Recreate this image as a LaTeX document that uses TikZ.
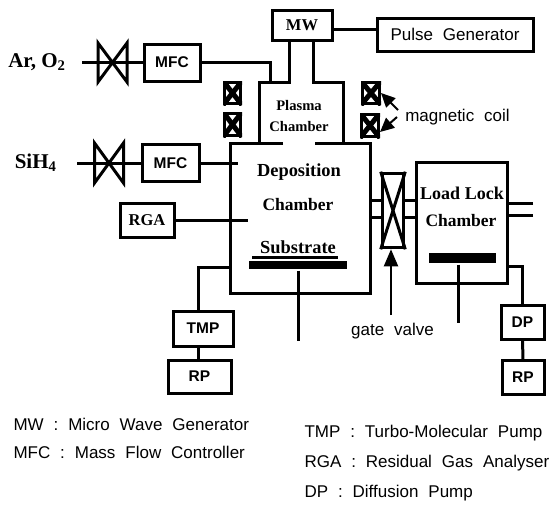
\documentclass[tikz,border=0pt]{standalone}
\usepackage{fontspec}
\usepackage{xcolor}
\usepackage{tikz}
\setmainfont[WordSpace=1.0]{Liberation Serif}
\setsansfont[WordSpace=2.1]{Liberation Sans}
\usetikzlibrary{arrows.meta, positioning, calc}

\begin{document}
\begin{tikzpicture}[
    x=1pt, y=-1pt,
    every path/.style={line width=3pt},
    devbox/.style={rectangle, draw, line width=3pt, inner sep=0pt, outer sep=0pt},
    serifbox/.style={devbox, font=\fontsize{16.5}{18}\selectfont\bfseries},
    sansbox/.style={devbox, font=\fontsize{15.5}{18}\selectfont\sffamily\bfseries},
    valvebox/.style={rectangle, inner sep=0pt, outer sep=0pt, minimum width=29pt, minimum height=39pt},
    coilbox/.style={rectangle, fill=black, inner sep=0pt, minimum width=19pt, minimum height=24pt,
        path picture={
            \fill[white] ([shift={(3pt,3pt)}]path picture bounding box.south west) rectangle ([shift={(-3pt,-3pt)}]path picture bounding box.north east);
            \draw[line width=5pt] (path picture bounding box.north west) -- (path picture bounding box.south east);
            \draw[line width=5pt] (path picture bounding box.north east) -- (path picture bounding box.south west);
        }},
    chamberlabel/.style={font=\fontsize{17.5}{20}\selectfont\bfseries, inner sep=0pt},
    plasmalabel/.style={font=\fontsize{14.6}{16}\selectfont\bfseries, inner sep=0pt},
    gaslabel/.style={font=\fontsize{21}{23}\selectfont\bfseries, inner sep=0pt},
    sanslabel/.style={font=\fontsize{17}{20}\selectfont\sffamily, inner sep=0pt},
    legendlabel/.style={font=\fontsize{17}{19}\selectfont\sffamily, inner sep=0pt, anchor=base west},
    bigpointer/.style={line width=2pt, -{Triangle[length=17pt, width=14pt]}},
    coilpointer/.style={line width=2pt, -{Triangle[length=14pt, width=13pt]}}
]
\useasboundingbox (0,0) rectangle (555,506);

% Microwave head
\node[serifbox, minimum width=60pt, minimum height=30pt] (mw) at (302,25) {MW};
\node[devbox, minimum width=156pt, minimum height=33pt, font=\fontsize{17}{20}\selectfont\sffamily] (pulse) at (455,34.5) {Pulse Generator};
\draw (mw.east |- 0,29) -- (pulse.west |- 0,29);

% Gas lines
\node[sansbox, minimum width=56pt, minimum height=37pt] (mfca) at (172,62.5) {MFC};
\node[valvebox] (valvea) at (112.5,62.5) {};
\draw (valvea.north west) -- (valvea.south east) -- (valvea.north east) -- (valvea.south west) -- cycle;
\coordinate (arin) at (82,62.5);
\draw (arin) -- (mfca.west);
\node[gaslabel, left=15pt of arin] (arlabel) {Ar, O\textsubscript{2}};

\node[sansbox, minimum width=57pt, minimum height=37pt] (mfcb) at (170.5,163) {MFC};
\node[valvebox, minimum height=40pt] (valveb) at (109,163) {};
\draw (valveb.north west) -- (valveb.south east) -- (valveb.north east) -- (valveb.south west) -- cycle;
\coordinate (siin) at (77,163);
\draw (siin) -- (mfcb.west);
\node[gaslabel, left=19pt of siin] (silabel) {SiH\textsubscript{4}};
\coordinate (siend) at (238,163);
\draw (mfcb.east) -- (siend);

% Plasma chamber and coils
\draw (mfca.east) -| (270,82);
\draw (289,40) -- (289,82) -- (259,82) -- (259,143);
\draw (313,40) -- (313,82) -- (343,82) -- (343,143);
\node[plasmalabel] (plasma1) at (299,106) {Plasma};
\node[plasmalabel] (plasma2) at (299,127) {Chamber};

\node[coilbox] (coilul) at (232.5,93) {};
\node[coilbox, minimum height=25pt] (coilll) at (232.5,124.5) {};
\node[coilbox, minimum width=20pt] (coilur) at (371,93) {};
\node[coilbox, minimum width=20pt, minimum height=25pt] (coillr) at (370,125.5) {};

\node[sanslabel] (coillabel) at (457.5,117) {magnetic coil};
\coordinate (coilfromu) at (398,110);
\coordinate (coilfroml) at (397,117);
\draw[coilpointer] (coilfromu) -- (381,93);
\draw[coilpointer] (coilfroml) -- (380,132);

% Deposition chamber
\draw (283,143) -- (230,143) -- (230,293) -- (370,293) -- (370,143) -- (315,143);
\node[chamberlabel, font=\fontsize{18.4}{20}\selectfont\bfseries] (dep1) at (299,172) {Deposition};
\node[chamberlabel] (dep2) at (298,205) {Chamber};
\node[chamberlabel, font=\fontsize{18.4}{20}\selectfont\bfseries] (sublabel) at (298,247) {Substrate};
\draw (252,257) -- (338,257);
\node[rectangle, fill=black, inner sep=0pt, minimum width=98pt, minimum height=8pt] (subbar) at (298,265) {};
\coordinate (subend) at (298,341);
\draw (subbar.south) -- (subend);

\node[serifbox, minimum width=54pt, minimum height=34pt] (rga) at (147,220.5) {RGA};
\coordinate (rgaend) at (248,220.5);
\draw (rga.east) -- (rgaend);

% Pumps, left
\node[sansbox, minimum width=60pt, minimum height=35pt] (tmpbox) at (203,328.5) {TMP};
\node[sansbox, minimum width=63pt, minimum height=33pt] (rpa) at (199.5,376.5) {RP};
\draw (230,267) -| (198,311);
\draw (198,346) -- (198,360);

% Gate valve
\node[rectangle, draw, line width=3.6pt, inner sep=0pt, minimum width=21pt, minimum height=74pt] (gate) at (393,210.5) {};
\draw (gate.north west) -- (gate.south east);
\draw (gate.north east) -- (gate.south west);
\draw (370,200) -- (381,200);
\draw (370,217) -- (381,217);
\draw (405,200) -- (417,200);
\draw (405,217) -- (417,217);
\coordinate (gatefrom) at (391,315);
\draw[bigpointer] (gatefrom) -- (gatefrom |- gate.south);
\node[sanslabel] (gatelabel) at (392.5,331) {gate valve};

% Load lock
\node[devbox, minimum width=91pt, minimum height=121pt] (lock) at (461.5,222.5) {};
\node[chamberlabel, font=\fontsize{18}{20}\selectfont\bfseries] (lock1) at (462,193) {Load Lock};
\node[chamberlabel] (lock2) at (461,221) {Chamber};
\node[rectangle, fill=black, inner sep=0pt, minimum width=67pt, minimum height=10pt] (lockbar) at (462.5,258) {};
\coordinate (lockend) at (458,323);
\draw (lockend |- lockbar.south) -- (lockend);
\coordinate (stuba) at (533,203);
\coordinate (stubb) at (533,215);
\draw (stuba) -- (stuba -| lock.east);
\draw (stubb) -- (stubb -| lock.east);

% Pumps, right
\node[sansbox, minimum width=43pt, minimum height=34pt] (dp) at (522.5,322) {DP};
\node[sansbox, minimum width=42pt, minimum height=34pt] (rpb) at (523,377) {RP};
\draw (507,266) -| (dp.north);
\draw (dp.south) -- (rpb.north);

% Legend
\node[legendlabel] (lega) at (12,430) {MW : Micro Wave Generator};
\node[legendlabel] (legb) at (12,458) {MFC : Mass Flow Controller};
\node[legendlabel] (legc) at (303,437) {TMP : Turbo-Molecular Pump};
\node[legendlabel] (legd) at (303,467) {RGA : Residual Gas Analyser};
\node[legendlabel] (lege) at (303,497) {DP : Diffusion Pump};

\end{tikzpicture}
\end{document}
